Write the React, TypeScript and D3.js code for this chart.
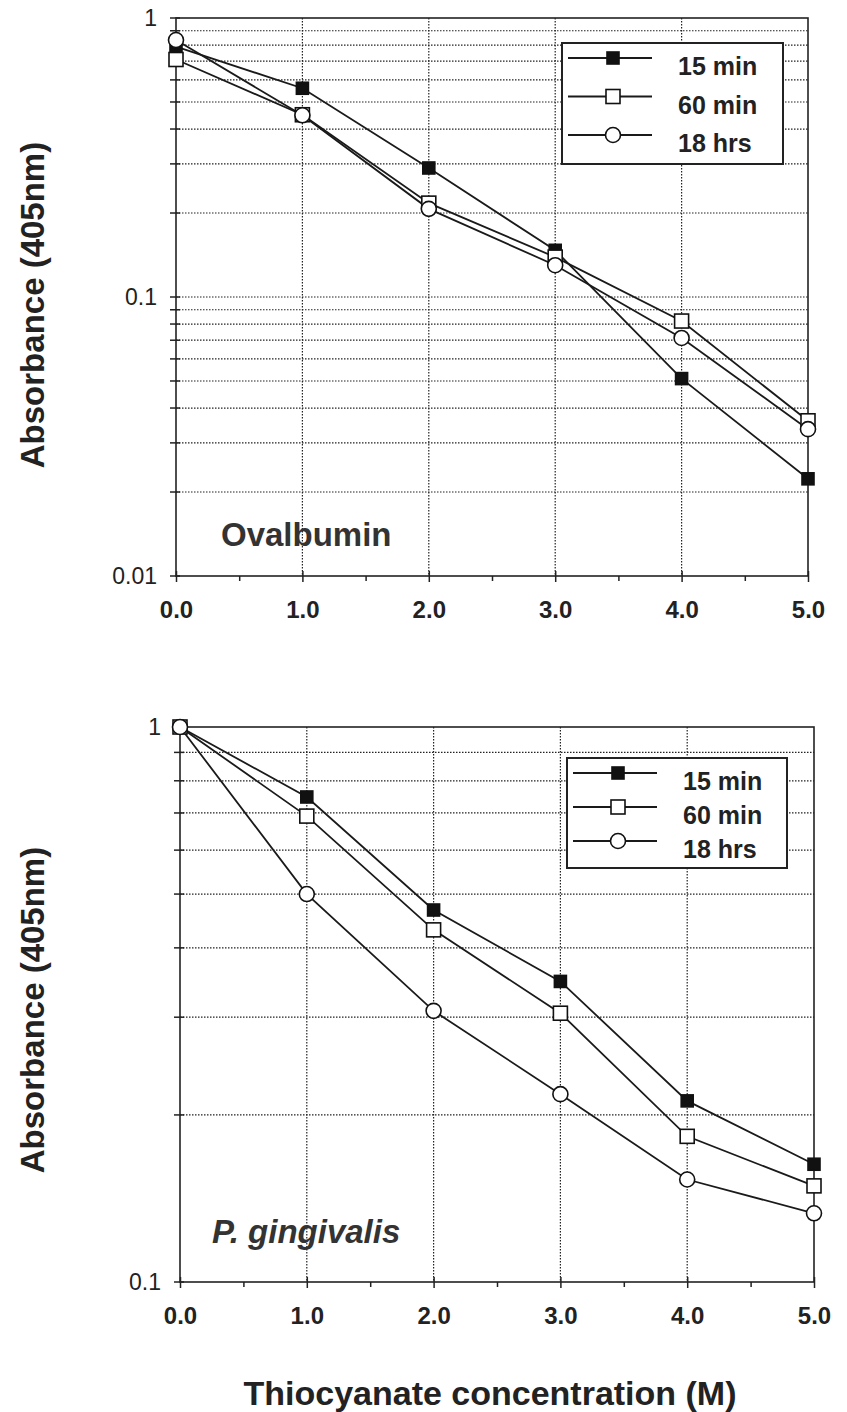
import React, { useEffect, useRef } from 'react';
import * as d3 from 'd3';

const concentrations = [0, 1, 2, 3, 4, 5];
const seriesNames = ['15 min', '60 min', '18 hrs'];
const markerKinds = ['filledSquare', 'openSquare', 'openCircle'];

// Ovalbumin panel
const oval15min = [0.79, 0.56, 0.29, 0.147, 0.051, 0.0223];
const oval60min = [0.71, 0.45, 0.217, 0.139, 0.082, 0.036];
const oval18hrs = [0.834, 0.448, 0.207, 0.13, 0.0713, 0.0336];

// P. gingivalis panel
const pg15min = [1.0, 0.748, 0.468, 0.348, 0.212, 0.163];
const pg60min = [1.0, 0.691, 0.431, 0.305, 0.183, 0.149];
const pg18hrs = [1.0, 0.5, 0.308, 0.218, 0.153, 0.133];

const ovalYTicks = [1, 0.1, 0.01];
const ovalYLabels = ['1', '0.1', '0.01'];
const pgYTicks = [1, 0.1];
const pgYLabels = ['1', '0.1'];
const xTickLabels = ['0.0', '1.0', '2.0', '3.0', '4.0', '5.0'];

const yTitle = 'Absorbance (405nm)';
const xTitle = 'Thiocyanate concentration (M)';

const width = 847;
const height = 1412;

const FONT = "'Liberation Sans', Arial, Helvetica, sans-serif";

const panels = [
	{
		key: 'oval',
		series: [oval15min, oval60min, oval18hrs],
		yDomain: [0.01, 1],
		yTicks: ovalYTicks,
		yLabels: ovalYLabels,
		box: { l: 176, r: 808, t: 18, b: 576 },
		legend: { x: 562, y: 43, w: 221, h: 121, gap: 38.5 },
		label: 'Ovalbumin',
		labelPos: [221, 546],
		italic: false,
		titleY: 305,
	},
	{
		key: 'pg',
		series: [pg15min, pg60min, pg18hrs],
		yDomain: [0.1, 1],
		yTicks: pgYTicks,
		yLabels: pgYLabels,
		box: { l: 180, r: 814, t: 727, b: 1282 },
		legend: { x: 567, y: 758, w: 220, h: 110, gap: 34 },
		label: 'P. gingivalis',
		labelPos: [212, 1243],
		italic: true,
		titleY: 1010,
	},
];

const drawMarker = (g, kind, x, y) => {
	if (kind === 'openCircle') {
		g.append('circle')
			.attr('cx', x)
			.attr('cy', y)
			.attr('r', 7.5)
			.attr('fill', '#fff')
			.attr('stroke', '#111')
			.attr('stroke-width', 1.6);
	} else {
		const s = kind === 'filledSquare' ? 12 : 14;
		g.append('rect')
			.attr('x', x - s / 2)
			.attr('y', y - s / 2)
			.attr('width', s)
			.attr('height', s)
			.attr('fill', kind === 'filledSquare' ? '#111' : '#fff')
			.attr('stroke', '#111')
			.attr('stroke-width', 1.6);
	}
};

const App = () => {
	const d3Container = useRef(null);

	useEffect(() => {
		if (!d3Container.current) return;
		const svg = d3.select(d3Container.current);
		svg.selectAll('*').remove();

		panels.forEach(p => {
			const { box } = p;
			const xScale = d3.scaleLinear().domain([0, 5]).range([box.l, box.r]);
			const yScale = d3.scaleLog().domain(p.yDomain).range([box.b, box.t]);
			const g = svg.append('g').attr('class', `panel-${p.key}`);

			// minor log values (2..9 x decade)
			const minor = [];
			const lo = Math.round(Math.log10(p.yDomain[0]));
			const hi = Math.round(Math.log10(p.yDomain[1]));
			for (let e = lo; e < hi; e++) {
				for (let m = 2; m <= 9; m++) minor.push(m * Math.pow(10, e));
			}

			// dotted grid
			g.selectAll('.hgrid')
				.data(minor.concat(p.yTicks.slice(1, -1)))
				.join('line')
				.attr('class', 'hgrid')
				.attr('x1', box.l)
				.attr('x2', box.r)
				.attr('y1', d => yScale(d))
				.attr('y2', d => yScale(d))
				.attr('stroke', '#222')
				.attr('stroke-width', 1.2)
				.attr('stroke-dasharray', '1.5,1.5');

			g.selectAll('.vgrid')
				.data([1, 2, 3, 4])
				.join('line')
				.attr('class', 'vgrid')
				.attr('x1', d => xScale(d))
				.attr('x2', d => xScale(d))
				.attr('y1', box.t)
				.attr('y2', box.b)
				.attr('stroke', '#222')
				.attr('stroke-width', 1.2)
				.attr('stroke-dasharray', '1.5,1.5');

			// frame
			g.append('rect')
				.attr('x', box.l)
				.attr('y', box.t)
				.attr('width', box.r - box.l)
				.attr('height', box.b - box.t)
				.attr('fill', 'none')
				.attr('stroke', '#222')
				.attr('stroke-width', 1.6);

			// y ticks
			g.selectAll('.ytick')
				.data(minor.concat(p.yTicks))
				.join('line')
				.attr('class', 'ytick')
				.attr('x1', box.l - 6)
				.attr('x2', box.l + 4)
				.attr('y1', d => yScale(d))
				.attr('y2', d => yScale(d))
				.attr('stroke', '#222')
				.attr('stroke-width', 1.5);

			g.selectAll('.ylabel')
				.data(p.yTicks)
				.join('text')
				.attr('class', 'ylabel')
				.attr('x', box.l - 19)
				.attr('y', d => yScale(d) + 8)
				.attr('text-anchor', 'end')
				.style('font-family', FONT)
				.style('font-size', '23px')
				.style('fill', '#222')
				.text((d, i) => p.yLabels[i]);

			// x axis: minor ticks below, major ticks crossing
			const xAxis = d3
				.axisBottom(xScale)
				.tickValues(d3.range(0, 5.01, 0.5))
				.tickSize(5)
				.tickFormat(d => (Number.isInteger(d) ? xTickLabels[d] : ''));
			const xg = g.append('g').attr('transform', `translate(0, ${box.b})`).call(xAxis);
			xg.select('.domain').remove();
			xg.selectAll('.tick line')
				.attr('stroke', '#222')
				.attr('stroke-width', 1.5)
				.attr('y1', d => (Number.isInteger(d) ? -5 : 0))
				.attr('y2', d => (Number.isInteger(d) ? 6 : 5));
			xg.selectAll('.tick text')
				.attr('dy', 0)
				.attr('y', 42)
				.style('font-family', FONT)
				.style('font-size', '24px')
				.style('font-weight', 'bold')
				.style('fill', '#222');

			// series lines and markers
			const line = d3
				.line()
				.x((d, i) => xScale(concentrations[i]))
				.y(d => yScale(d));

			p.series.forEach(values => {
				g.append('path')
					.attr('d', line(values))
					.attr('fill', 'none')
					.attr('stroke', '#1a1a1a')
					.attr('stroke-width', 1.8);
			});
			p.series.forEach((values, si) => {
				values.forEach((v, i) => drawMarker(g, markerKinds[si], xScale(concentrations[i]), yScale(v)));
			});

			// legend
			const lg = g.append('g').attr('transform', `translate(${p.legend.x}, ${p.legend.y})`);
			lg.append('rect')
				.attr('width', p.legend.w)
				.attr('height', p.legend.h)
				.attr('fill', '#fff')
				.attr('stroke', '#222')
				.attr('stroke-width', 2);
			seriesNames.forEach((name, i) => {
				const cy = 15 + p.legend.gap * i;
				lg.append('line')
					.attr('x1', 6)
					.attr('x2', 90)
					.attr('y1', cy)
					.attr('y2', cy)
					.attr('stroke', '#1a1a1a')
					.attr('stroke-width', 1.8);
				drawMarker(lg, markerKinds[i], 51, cy);
				lg.append('text')
					.attr('x', 116)
					.attr('y', cy + 17)
					.style('font-family', FONT)
					.style('font-size', '25px')
					.style('font-weight', 'bold')
					.style('fill', '#222')
					.text(name);
			});

			// panel label
			g.append('text')
				.attr('x', p.labelPos[0])
				.attr('y', p.labelPos[1])
				.style('font-family', FONT)
				.style('font-size', '33px')
				.style('font-weight', 'bold')
				.style('font-style', p.italic ? 'italic' : 'normal')
				.style('fill', '#333')
				.text(p.label);

			// y title
			g.append('text')
				.attr('transform', `translate(44, ${p.titleY}) rotate(-90)`)
				.attr('text-anchor', 'middle')
				.style('font-family', FONT)
				.style('font-size', '33px')
				.style('font-weight', 'bold')
				.style('fill', '#222')
				.text(yTitle);
		});

		svg.append('text')
			.attr('x', 490)
			.attr('y', 1405)
			.attr('text-anchor', 'middle')
			.style('font-family', FONT)
			.style('font-size', '34px')
			.style('font-weight', 'bold')
			.style('fill', '#222')
			.text(xTitle);
	}, []);

	return (
		<svg
			ref={d3Container}
			width={width}
			height={height}
			style={{ position: 'absolute', left: 0, top: 0, background: '#fff' }}
		/>
	);
};

export default App;
